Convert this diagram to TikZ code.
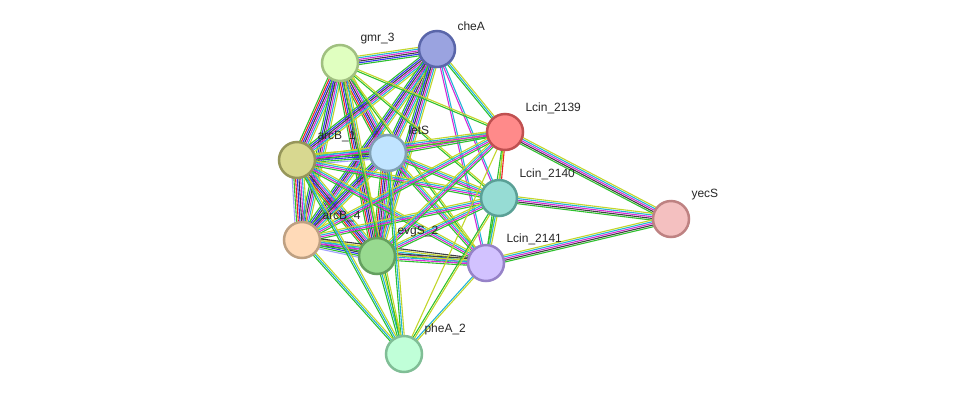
\documentclass[tikz,border=0pt]{standalone}
\usepackage{fontspec}
\setmainfont{Liberation Sans}
\usetikzlibrary{calc}
\pgfdeclarelayer{bg}\pgfsetlayers{bg,main}
\definecolor{G}{HTML}{2EC12E}\definecolor{C}{HTML}{22B5D6}\definecolor{M}{HTML}{D62AD6}
\definecolor{Y}{HTML}{C2D62A}\definecolor{K}{HTML}{404040}\definecolor{B}{HTML}{3333EE}
\definecolor{R}{HTML}{EE2222}\definecolor{L}{HTML}{A0A0FF}
\newcommand\lnk[3]{%
 \foreach \c [count=\i] in {#3} {\global\let\nn\i}%
 \foreach \c [count=\i] in {#3} {%
  \pgfmathsetmacro\o{(\i-(\nn+1)/2)*1.7}%
  \draw[edge,\c] ($(#1)!\o pt!90:(#2)$) -- ($(#2)!\o pt!-90:(#1)$);}}
\tikzset{
 prot/.style={circle,minimum size=36pt,inner sep=0pt,line width=2.5pt},
 lab/.style={font=\fontsize{12}{12}\selectfont,text=black!85},
 edge/.style={line width=1.1pt}}
\begin{document}
\begin{tikzpicture}[x=1pt,y=-1pt]
\useasboundingbox (0,0) rectangle (975,400);
\node[prot,fill={rgb,255:red,224;green,255;blue,192},draw={rgb,255:red,160;green,192;blue,128}] (gmr) at (340,63) {};
\node[prot,fill={rgb,255:red,154;green,163;blue,224},draw={rgb,255:red,90;green,102;blue,170}] (cheA) at (437,49) {};
\node[prot,fill={rgb,255:red,255;green,138;blue,138},draw={rgb,255:red,192;green,80;blue,80}] (L39) at (505,132) {};
\node[prot,fill={rgb,255:red,216;green,216;blue,144},draw={rgb,255:red,150;green,150;blue,90}] (arcBa) at (297,160) {};
\node[prot,fill={rgb,255:red,192;green,228;blue,255},draw={rgb,255:red,128;green,160;blue,180}] (letS) at (388,153) {};
\node[prot,fill={rgb,255:red,150;green,220;blue,212},draw={rgb,255:red,90;green,160;blue,150}] (L40) at (499,198) {};
\node[prot,fill={rgb,255:red,244;green,192;blue,192},draw={rgb,255:red,190;green,130;blue,130}] (yecS) at (671,219) {};
\node[prot,fill={rgb,255:red,255;green,218;blue,184},draw={rgb,255:red,190;green,160;blue,130}] (arcBb) at (302,240) {};
\node[prot,fill={rgb,255:red,152;green,218;blue,144},draw={rgb,255:red,100;green,160;blue,95}] (evgS) at (377,256) {};
\node[prot,fill={rgb,255:red,210;green,194;blue,255},draw={rgb,255:red,150;green,130;blue,200}] (L41) at (486,263) {};
\node[prot,fill={rgb,255:red,192;green,255;blue,216},draw={rgb,255:red,128;green,190;blue,150}] (pheA) at (404,354) {};
\node[lab,anchor=south west] (t1) at (357,48) {gmr\_3};
\node[lab,anchor=south west] (t2) at (454,34) {cheA};
\node[lab,anchor=south west] (t3) at (522,117) {Lcin\_2139};
\node[lab,anchor=south west] (t4) at (314,145) {arcB\_1};
\node[lab,anchor=south west] (t5) at (405,138) {letS};
\node[lab,anchor=south west] (t6) at (516,183) {Lcin\_2140};
\node[lab,anchor=south west] (t7) at (688,204) {yecS};
\node[lab,anchor=south west] (t8) at (319,225) {arcB\_4};
\node[lab,anchor=south west] (t9) at (394,241) {evgS\_2};
\node[lab,anchor=south west] (t10) at (503,248) {Lcin\_2141};
\node[lab,anchor=south west] (t11) at (421,339) {pheA\_2};
\begin{pgfonlayer}{bg}
\lnk{gmr}{cheA}{G,B,K,M,C,Y}
\lnk{gmr}{arcBa}{G,R,B,K,M,C,Y}
\lnk{gmr}{letS}{G,R,B,K,M,C,Y}
\lnk{gmr}{arcBb}{G,B,K,M,C,Y}
\lnk{gmr}{evgS}{G,R,B,K,M,C,Y}
\lnk{cheA}{arcBa}{G,B,K,M,C,Y}
\lnk{cheA}{letS}{G,B,K,M,C,Y}
\lnk{cheA}{arcBb}{G,B,K,M,C,Y}
\lnk{cheA}{evgS}{G,B,K,M,C,Y}
\lnk{arcBa}{letS}{L,G,B,K,M,C,Y}
\lnk{arcBa}{arcBb}{L,G,R,B,K,M,C,Y}
\lnk{arcBa}{evgS}{G,R,B,K,M,C,Y}
\lnk{letS}{arcBb}{G,B,K,M,C,Y}
\lnk{letS}{evgS}{G,R,B,K,M,C,Y}
\lnk{arcBb}{evgS}{L,G,B,K,M,C,Y}
\lnk{cheA}{L39}{G,C,Y}
\lnk{cheA}{L40}{M,C}
\lnk{cheA}{L41}{M,C}
\lnk{gmr}{L39}{G,Y}
\lnk{gmr}{L40}{G,Y}
\lnk{gmr}{L41}{G,Y}
\lnk{letS}{L39}{G,M,Y,Y}
\lnk{letS}{L40}{G,M,C,Y}
\lnk{letS}{L41}{G,M,C,Y}
\lnk{arcBa}{L39}{G,M,C,Y}
\lnk{arcBa}{L40}{G,M,C,Y}
\lnk{arcBa}{L41}{G,M,C,Y}
\lnk{arcBb}{L39}{G,M,C,Y}
\lnk{arcBb}{L40}{G,M,C,Y}
\lnk{arcBb}{L41}{G,M,C,Y,K}
\lnk{evgS}{L39}{G,M,C,Y}
\lnk{evgS}{L40}{G,M,C,Y}
\lnk{evgS}{L41}{G,M,C,Y,K}
\lnk{L39}{L40}{G,R}
\lnk{L39}{L41}{G,Y}
\lnk{L40}{L41}{G,C,Y}
\lnk{L39}{yecS}{G,K,M,C,Y}
\lnk{L40}{yecS}{G,K,M,C,Y}
\lnk{L41}{yecS}{G,K,M,C,Y}
\lnk{arcBa}{pheA}{G,C,Y}
\lnk{arcBb}{pheA}{G,C,Y}
\lnk{evgS}{pheA}{G,C,Y}
\lnk{letS}{pheA}{G,C,Y}
\lnk{gmr}{pheA}{G,Y}
\lnk{L41}{pheA}{C,Y}
\lnk{L40}{pheA}{G,Y}
\lnk{L39}{pheA}{Y}
\end{pgfonlayer}
\end{tikzpicture}
\end{document}
